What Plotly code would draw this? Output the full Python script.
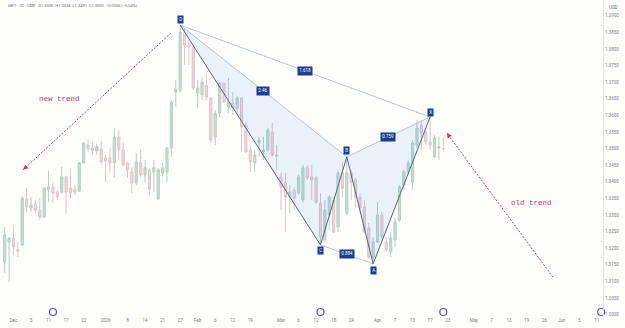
import plotly.graph_objects as go

# ---------------- data (daily bars, index = bar number) ----------------
opens = [1.3159, 1.3219, 1.3231, 1.3195, 1.3210, 1.3348, 1.3321, 1.3333, 1.3315, 1.3294,
         1.3378, 1.3384, 1.3369, 1.3369, 1.3415, 1.3381, 1.3378, 1.3372, 1.3457, 1.3511,
         1.3496, 1.3493, 1.3499, 1.3472, 1.3472, 1.3457, 1.3535, 1.3496, 1.3457, 1.3430,
         1.3397, 1.3457, 1.3421, 1.3436, 1.3430, 1.3348, 1.3427, 1.3430, 1.3502, 1.3670,
         1.3676, 1.3848, 1.3812, 1.3803, 1.3667, 1.3661, 1.3691, 1.3652, 1.3535, 1.3607,
         1.3697, 1.3625, 1.3637, 1.3622, 1.3652, 1.3571, 1.3496, 1.3457, 1.3517, 1.3490,
         1.3496, 1.3550, 1.3481, 1.3415, 1.3397, 1.3354, 1.3375, 1.3366, 1.3345, 1.3442,
         1.3415, 1.3412, 1.3336, 1.3225, 1.3300, 1.3345, 1.3264, 1.3427, 1.3306, 1.3427,
         1.3406, 1.3354, 1.3324, 1.3261, 1.3174, 1.3219, 1.3300, 1.3219, 1.3189, 1.3225,
         1.3285, 1.3390, 1.3430, 1.3397, 1.3511, 1.3571, 1.3550, 1.3520, 1.3475, 1.3502,
         1.3500]
highs = [1.3264, 1.3234, 1.3270, 1.3219, 1.3357, 1.3381, 1.3354, 1.3345, 1.3351, 1.3384,
         1.3433, 1.3399, 1.3375, 1.3445, 1.3418, 1.3442, 1.3390, 1.3460, 1.3520, 1.3529,
         1.3520, 1.3514, 1.3523, 1.3481, 1.3502, 1.3562, 1.3556, 1.3517, 1.3460, 1.3445,
         1.3487, 1.3496, 1.3466, 1.3442, 1.3466, 1.3442, 1.3457, 1.3505, 1.3646, 1.3707,
         1.3872, 1.3863, 1.3827, 1.3809, 1.3707, 1.3716, 1.3728, 1.3655, 1.3616, 1.3700,
         1.3700, 1.3713, 1.3670, 1.3658, 1.3655, 1.3580, 1.3511, 1.3496, 1.3535, 1.3535,
         1.3562, 1.3577, 1.3511, 1.3427, 1.3427, 1.3390, 1.3384, 1.3421, 1.3451, 1.3451,
         1.3451, 1.3418, 1.3366, 1.3345, 1.3360, 1.3354, 1.3436, 1.3460, 1.3475, 1.3436,
         1.3412, 1.3366, 1.3345, 1.3276, 1.3234, 1.3339, 1.3309, 1.3234, 1.3249, 1.3291,
         1.3390, 1.3436, 1.3466, 1.3526, 1.3586, 1.3586, 1.3562, 1.3595, 1.3541, 1.3535,
         1.3534]
lows = [1.3126, 1.3098, 1.3180, 1.3174, 1.3207, 1.3309, 1.3309, 1.3306, 1.3285, 1.3291,
        1.3339, 1.3336, 1.3345, 1.3366, 1.3306, 1.3351, 1.3360, 1.3369, 1.3454, 1.3490,
        1.3481, 1.3481, 1.3451, 1.3399, 1.3430, 1.3412, 1.3466, 1.3445, 1.3412, 1.3366,
        1.3390, 1.3415, 1.3399, 1.3360, 1.3369, 1.3345, 1.3415, 1.3399, 1.3475, 1.3625,
        1.3670, 1.3752, 1.3752, 1.3676, 1.3622, 1.3646, 1.3646, 1.3517, 1.3511, 1.3595,
        1.3637, 1.3607, 1.3601, 1.3610, 1.3490, 1.3487, 1.3430, 1.3430, 1.3475, 1.3466,
        1.3490, 1.3475, 1.3436, 1.3315, 1.3249, 1.3306, 1.3315, 1.3360, 1.3336, 1.3406,
        1.3345, 1.3333, 1.3210, 1.3219, 1.3255, 1.3246, 1.3249, 1.3354, 1.3300, 1.3345,
        1.3324, 1.3306, 1.3246, 1.3168, 1.3153, 1.3216, 1.3225, 1.3189, 1.3174, 1.3204,
        1.3279, 1.3375, 1.3421, 1.3375, 1.3502, 1.3496, 1.3511, 1.3496, 1.3472, 1.3466,
        1.3491]
closes = [1.3240, 1.3231, 1.3204, 1.3192, 1.3351, 1.3324, 1.3330, 1.3315, 1.3294, 1.3381,
          1.3384, 1.3366, 1.3354, 1.3415, 1.3369, 1.3366, 1.3369, 1.3457, 1.3517, 1.3499,
          1.3502, 1.3505, 1.3460, 1.3463, 1.3457, 1.3535, 1.3496, 1.3451, 1.3436, 1.3397,
          1.3460, 1.3421, 1.3442, 1.3378, 1.3442, 1.3436, 1.3442, 1.3502, 1.3640, 1.3679,
          1.3851, 1.3812, 1.3806, 1.3682, 1.3682, 1.3700, 1.3655, 1.3526, 1.3607, 1.3697,
          1.3640, 1.3640, 1.3622, 1.3652, 1.3565, 1.3490, 1.3460, 1.3481, 1.3526, 1.3496,
          1.3556, 1.3481, 1.3478, 1.3384, 1.3354, 1.3369, 1.3351, 1.3415, 1.3442, 1.3412,
          1.3406, 1.3339, 1.3234, 1.3315, 1.3354, 1.3249, 1.3427, 1.3381, 1.3427, 1.3399,
          1.3354, 1.3321, 1.3249, 1.3174, 1.3219, 1.3300, 1.3234, 1.3195, 1.3231, 1.3279,
          1.3384, 1.3430, 1.3457, 1.3517, 1.3562, 1.3547, 1.3520, 1.3511, 1.3532, 1.3506,
          1.3500]
bar_idx = list(range(len(opens)))

tick_idx = [2, 6, 10, 14, 18, 23, 28, 32, 36, 40, 44, 48, 52, 56, 63, 67, 71, 75, 79,
            85, 89, 93, 97, 101, 107, 111, 115, 119, 123, 127, 131, 135]
tick_text = ["Dec", "5", "11", "17", "22", "2026", "8", "14", "21", "27", "Feb", "6", "12",
             "19", "Mar", "6", "12", "18", "24", "Apr", "7", "13", "17", "23", "May", "7",
             "13", "19", "26", "Jun", "5", "11"]

price_ticks = [1.3000, 1.3050, 1.3100, 1.3150, 1.3200, 1.3250, 1.3300, 1.3350, 1.3400,
               1.3450, 1.3500, 1.3550, 1.3600, 1.3650, 1.3700, 1.3750, 1.3800, 1.3850, 1.3900]

# harmonic pattern pivots: name, bar, which extreme
pivot_names = ["D", "C", "B", "A", "X"]
pivot_bars = [40, 72, 78, 84, 97]
pivot_kind = ["high", "low", "high", "low", "high"]
ratio_text = ["2.46", "1.618", "0.759", "0.884"]
ratio_legs = [("D", "B"), ("D", "X"), ("B", "X"), ("C", "A")]

# trend arrows (bar, price): tail -> head
new_trend_tail, new_trend_head = (37.9, 1.3848), (4.2, 1.3436)
old_trend_tail, old_trend_head = (125.0, 1.3113), (100.8, 1.3547)
new_trend_text_pos = (12.4, 1.3649)
old_trend_text_pos = (120.2, 1.3336)

event_bars = [11, 72, 100, 136]

header = "6B1! · 1D · CME   O1.3500  H1.3534  L1.3491  C1.3500  −0.0006 (−0.04%)"

# ---------------- layout constants ----------------
W, H = 625, 328
ML, MR, MT, MB = 0, 22, 0, 12
XR = [-1.07, 136.41]
YR = [1.29961, 1.39473]
BG = "#fdfdfc"
ARROW_COL = "#c7386a"

piv = {}
for n, b, k in zip(pivot_names, pivot_bars, pivot_kind):
    piv[n] = (b, highs[b] if k == "high" else lows[b])

fig = go.Figure()

fig.add_trace(go.Candlestick(
    x=bar_idx, open=opens, high=highs, low=lows, close=closes,
    increasing=dict(line=dict(color="#b4cfc5", width=1), fillcolor="#c6ddd4"),
    decreasing=dict(line=dict(color="#e0c3c9", width=1), fillcolor="#eed8dc"),
    whiskerwidth=0, showlegend=False, hoverinfo="skip"))

# triangles
for tri in [("D", "C", "B"), ("B", "A", "X")]:
    xs = [piv[p][0] for p in tri] + [piv[tri[0]][0]]
    ys = [piv[p][1] for p in tri] + [piv[tri[0]][1]]
    fig.add_trace(go.Scatter(x=xs, y=ys, mode="lines", fill="toself",
                             fillcolor="rgba(33,120,230,0.09)",
                             line=dict(width=0), showlegend=False, hoverinfo="skip"))

# thin ratio lines
for a, b in ratio_legs:
    fig.add_trace(go.Scatter(x=[piv[a][0], piv[b][0]], y=[piv[a][1], piv[b][1]],
                             mode="lines", line=dict(color="#a9b6c8", width=0.8),
                             showlegend=False, hoverinfo="skip"))

# main legs
for a, b in [("D", "C"), ("C", "B"), ("B", "A"), ("A", "X")]:
    fig.add_trace(go.Scatter(x=[piv[a][0], piv[b][0]], y=[piv[a][1], piv[b][1]],
                             mode="lines", line=dict(color="#56657a", width=1),
                             showlegend=False, hoverinfo="skip"))

# trend arrows (dashed shafts)
for tail, head in [(new_trend_tail, new_trend_head), (old_trend_tail, old_trend_head)]:
    fig.add_trace(go.Scatter(x=[tail[0], head[0]], y=[tail[1], head[1]], mode="lines",
                             line=dict(color=ARROW_COL, width=1, dash="2px,1.5px"),
                             showlegend=False, hoverinfo="skip"))

# event markers
fig.add_trace(go.Scatter(x=event_bars, y=[YR[0] + 0.0012] * len(event_bars), mode="markers",
                         marker=dict(symbol="circle", size=7, color="white",
                                     line=dict(color="#5a4fcf", width=1.2)),
                         cliponaxis=False, showlegend=False, hoverinfo="skip"))

annotations = []
pw = W - ML - MR
ph = H - MT - MB
sx = pw / (XR[1] - XR[0])
sy = ph / (YR[1] - YR[0])
for tail, head in [(new_trend_tail, new_trend_head), (old_trend_tail, old_trend_head)]:
    dx = (tail[0] - head[0]) * sx
    dy = -(tail[1] - head[1]) * sy
    L = (dx * dx + dy * dy) ** 0.5
    annotations.append(dict(x=head[0], y=head[1], xref="x", yref="y", text="",
                            showarrow=True, arrowhead=2, arrowsize=1, arrowwidth=1,
                            arrowcolor=ARROW_COL, ax=dx / L * 7, ay=dy / L * 7))

for txt, pos in [("new trend", new_trend_text_pos), ("old trend", old_trend_text_pos)]:
    annotations.append(dict(x=pos[0], y=pos[1], xref="x", yref="y", text=txt,
                            showarrow=False,
                            font=dict(family="Liberation Mono, DejaVu Sans Mono, monospace",
                                      size=7.5, color=ARROW_COL)))

shift = {"D": 6, "C": -6, "B": 6, "A": -7, "X": 5}
for n in pivot_names:
    annotations.append(dict(x=piv[n][0], y=piv[n][1], xref="x", yref="y", text=n,
                            showarrow=False, yshift=shift[n], bgcolor="#1d3d8f",
                            borderpad=1.2, font=dict(family="Roboto, sans-serif", size=4.5,
                                                     color="white")))
for txt, (a, b) in zip(ratio_text, ratio_legs):
    annotations.append(dict(x=(piv[a][0] + piv[b][0]) / 2, y=(piv[a][1] + piv[b][1]) / 2,
                            xref="x", yref="y", text=txt, showarrow=False,
                            bgcolor="#1d3d8f", borderpad=1.3,
                            font=dict(family="Roboto, sans-serif", size=4.5, color="white")))

annotations.append(dict(x=6 / pw, y=1 - 6 / ph, xref="paper", yref="paper", text=header,
                        showarrow=False, xanchor="left", yanchor="middle",
                        font=dict(family="Roboto, sans-serif", size=4, color="#6a6d78")))
annotations.append(dict(x=(613) / pw, y=1 - 7 / ph, xref="paper", yref="paper", text="USD",
                        showarrow=False, xanchor="center", yanchor="middle",
                        font=dict(family="Roboto, sans-serif", size=4.5, color="#6a6d78")))

fig.update_layout(
    width=W, height=H, margin=dict(l=ML, r=MR, t=MT, b=MB),
    paper_bgcolor=BG, plot_bgcolor=BG,
    annotations=annotations, showlegend=False,
    xaxis=dict(range=XR, type="linear", rangeslider=dict(visible=False),
               showgrid=False, zeroline=False, showline=False,
               tickmode="array", tickvals=tick_idx, ticktext=tick_text, ticks="",
               tickfont=dict(family="Roboto, sans-serif", size=4.5, color="#7a7d87")),
    yaxis=dict(range=YR, side="right", showgrid=False, zeroline=False,
               showline=True, linecolor="#e3e5ea", linewidth=1,
               tickmode="array", tickvals=price_ticks,
               ticktext=["%.4f" % v for v in price_ticks], ticks="",
               tickfont=dict(family="Roboto, sans-serif", size=4.5, color="#7a7d87")),
)

fig.write_html("out.html")
